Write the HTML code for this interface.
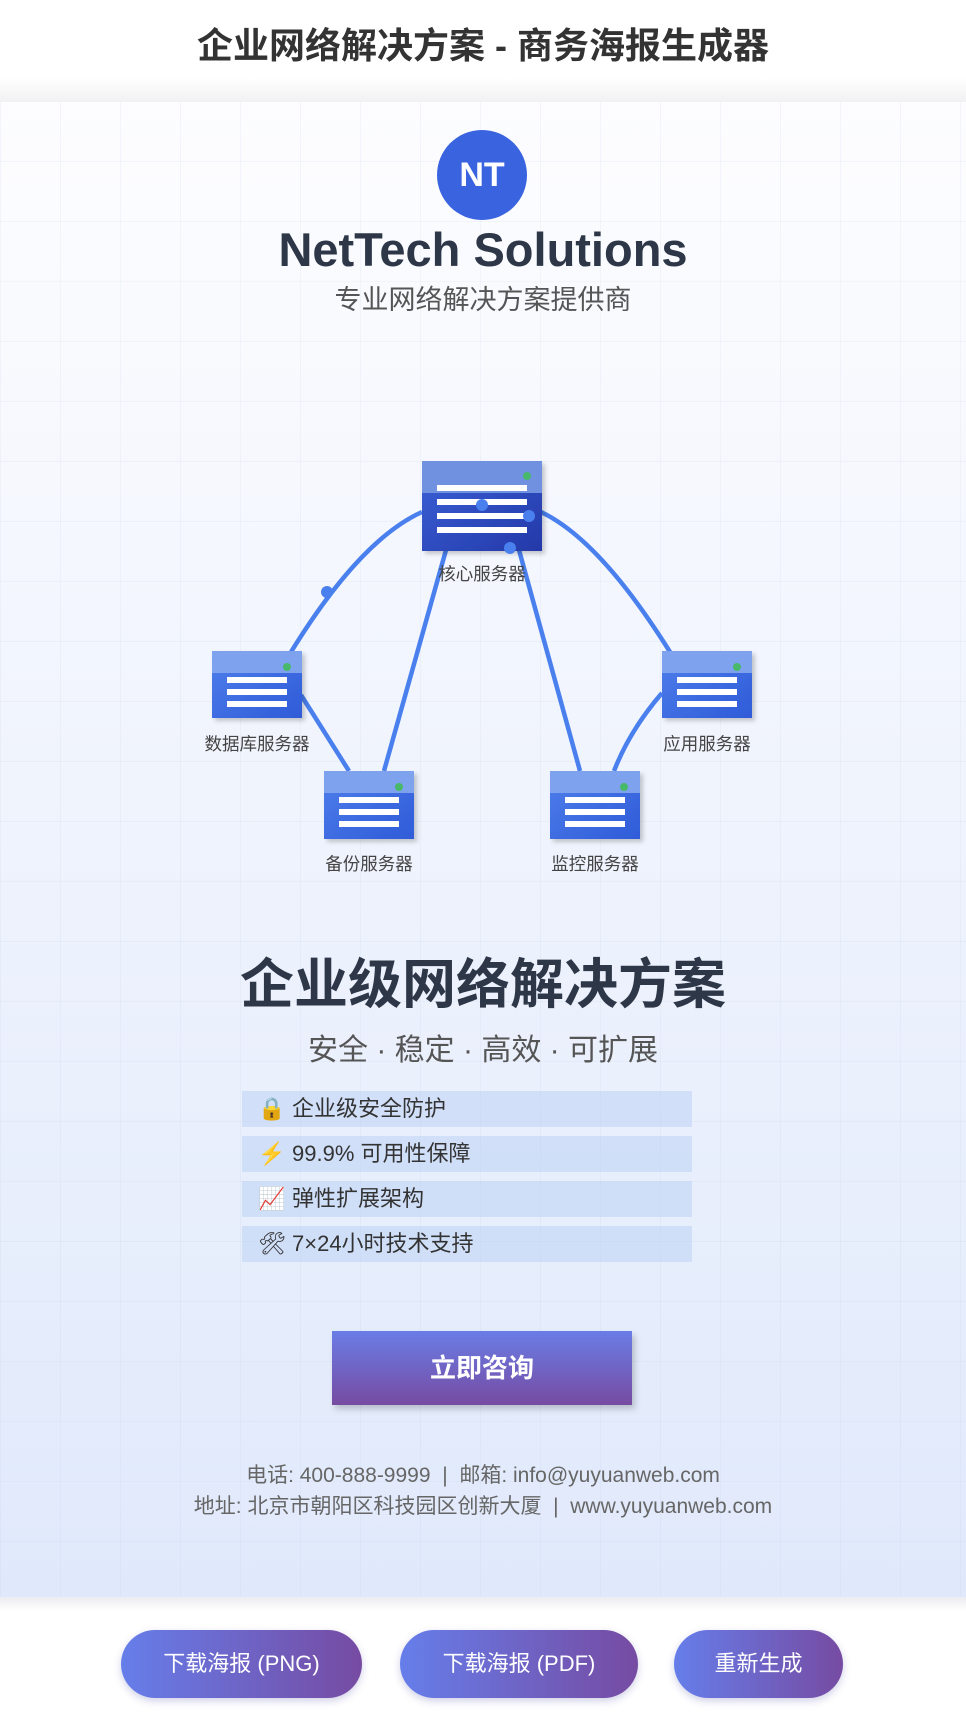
<!DOCTYPE html>
<html><head><meta charset="utf-8">
<style>
*{margin:0;padding:0;box-sizing:border-box}
body{width:966px;height:1726px;position:relative;background:#fff;font-family:"Liberation Sans","Noto Sans CJK SC",sans-serif;overflow:hidden}
.abs{position:absolute}
.c{left:0;width:966px;text-align:center}
#hdr{top:0;left:0;width:966px;height:80px;background:#fff}
#hdr h1{font-size:36px;font-weight:bold;color:#333;text-align:center;line-height:92px}
#shade{top:78px;left:0;width:966px;height:24px;background:linear-gradient(#fff,#f1f1f3)}
#poster{top:101px;left:0;width:966px;height:1496px;background:linear-gradient(#fdfdff,#e0e9fb);}
#grid{top:101px;left:0;width:966px;height:1496px;background-image:linear-gradient(90deg,rgba(180,195,225,.13) 1px,transparent 1px),linear-gradient(rgba(180,195,225,.13) 1px,transparent 1px);background-size:60px 60px;background-position:0 0}
.row{left:242px;width:450px;height:36px;background:rgba(180,205,245,.45);font-size:22px;color:#333;line-height:36px;padding-left:16px}
.row span{display:inline-block;width:34px}
.btn{top:1630px;height:68px;border-radius:34px;background:linear-gradient(90deg,#667eea,#764ba2);color:#fff;font-size:22px;line-height:68px;text-align:center;box-shadow:0 3px 8px rgba(100,100,180,.3)}
</style></head><body>
<div id="hdr" class="abs"><h1>企业网络解决方案 - 商务海报生成器</h1></div>
<div id="poster" class="abs"></div>
<div id="grid" class="abs"></div>
<div id="shade" class="abs"></div>
<div class="abs" style="left:437px;top:130px;width:90px;height:90px;border-radius:50%;background:#3a63e0;color:#fff;font-weight:bold;font-size:34px;line-height:90px;text-align:center">NT</div>
<div class="abs c" style="top:222px;font-size:47px;font-weight:bold;color:#2d3748">NetTech Solutions</div>
<div class="abs c" style="top:278px;font-size:27px;color:#555">专业网络解决方案提供商</div>

<svg class="abs" style="left:0;top:0" width="966" height="900">
<defs>
<linearGradient id="bd" x1="0" y1="0" x2="1" y2="1"><stop offset="0" stop-color="#4f7fec"/><stop offset="1" stop-color="#2f5bd8"/></linearGradient>
<linearGradient id="cd" x1="0" y1="0" x2="1" y2="1"><stop offset="0" stop-color="#3a62d8"/><stop offset="1" stop-color="#2438a8"/></linearGradient>
<filter id="sh"><feDropShadow dx="3" dy="3" stdDeviation="2" flood-color="#000" flood-opacity=".2"/></filter>
</defs>
<g stroke="#4a80ee" stroke-width="4.5" fill="none">
<path d="M422 512 Q360 540 291 652"/>
<path d="M446 550 L384 771"/>
<path d="M301 695 L349 771"/>
<path d="M519 550 L580 771"/>
<path d="M541 512 Q600 540 670 652"/>
<path d="M662 693 Q630 730 614 771"/>
</g>
<g filter="url(#sh)">
<rect x="422" y="461" width="120" height="90" fill="url(#cd)"/>
<rect x="422" y="461" width="120" height="32" fill="#7090e0"/>
<rect x="212" y="651" width="90" height="67" fill="url(#bd)"/>
<rect x="212" y="651" width="90" height="22" fill="#7fa2ee"/>
<rect x="662" y="651" width="90" height="67" fill="url(#bd)"/>
<rect x="662" y="651" width="90" height="22" fill="#7fa2ee"/>
<rect x="324" y="771" width="90" height="68" fill="url(#bd)"/>
<rect x="324" y="771" width="90" height="22" fill="#7fa2ee"/>
<rect x="550" y="771" width="90" height="68" fill="url(#bd)"/>
<rect x="550" y="771" width="90" height="22" fill="#7fa2ee"/>
</g>
<g fill="#fff">
<rect x="437" y="485" width="90" height="6"/><rect x="437" y="499" width="90" height="6"/><rect x="437" y="513" width="90" height="6"/><rect x="437" y="527" width="90" height="6"/>
<rect x="227" y="677" width="60" height="6"/><rect x="227" y="689" width="60" height="6"/><rect x="227" y="701" width="60" height="6"/>
<rect x="677" y="677" width="60" height="6"/><rect x="677" y="689" width="60" height="6"/><rect x="677" y="701" width="60" height="6"/>
<rect x="339" y="797" width="60" height="6"/><rect x="339" y="809" width="60" height="6"/><rect x="339" y="821" width="60" height="6"/>
<rect x="565" y="797" width="60" height="6"/><rect x="565" y="809" width="60" height="6"/><rect x="565" y="821" width="60" height="6"/>
</g>
<g fill="#48b86a">
<circle cx="527" cy="476" r="4"/><circle cx="287" cy="667" r="4"/><circle cx="737" cy="667" r="4"/><circle cx="399" cy="787" r="4"/><circle cx="624" cy="787" r="4"/>
</g>
<g fill="#4a80ee">
<circle cx="327" cy="592" r="6"/><circle cx="482" cy="505" r="6"/><circle cx="529" cy="516" r="6"/><circle cx="510" cy="548" r="6"/>
</g>
<g font-size="17.5" fill="#444" text-anchor="middle" font-family="Liberation Sans,Noto Sans CJK SC,sans-serif">
<text x="482" y="580">核心服务器</text>
<text x="257" y="750">数据库服务器</text>
<text x="707" y="750">应用服务器</text>
<text x="369" y="870">备份服务器</text>
<text x="595" y="870">监控服务器</text>
</g>
</svg>

<div class="abs c" style="top:940px;font-size:54px;font-weight:bold;color:#2d3748">企业级网络解决方案</div>
<div class="abs c" style="top:1025px;font-size:30px;color:#555">安全 · 稳定 · 高效 · 可扩展</div>
<div class="abs row" style="top:1091px"><span>🔒</span>企业级安全防护</div>
<div class="abs row" style="top:1136px"><span>⚡</span>99.9% 可用性保障</div>
<div class="abs row" style="top:1181px"><span>📈</span>弹性扩展架构</div>
<div class="abs row" style="top:1226px"><span>🛠</span>7×24小时技术支持</div>
<div class="abs" style="left:332px;top:1331px;width:300px;height:74px;background:linear-gradient(#6a7de6,#764ba2);color:#fff;font-weight:bold;font-size:26px;line-height:74px;text-align:center;box-shadow:3px 4px 6px rgba(0,0,0,.2)">立即咨询</div>
<div class="abs c" style="top:1459px;font-size:21px;color:#666">电话: 400-888-9999 &nbsp;|&nbsp; 邮箱: info@yuyuanweb.com</div>
<div class="abs c" style="top:1490px;font-size:21px;color:#666">地址: 北京市朝阳区科技园区创新大厦 &nbsp;|&nbsp; www.yuyuanweb.com</div>
<div class="abs" style="top:1597px;left:0;width:966px;height:14px;background:linear-gradient(#ececf0,#fff)"></div>
<div class="abs btn" style="left:121px;width:241px">下载海报 (PNG)</div>
<div class="abs btn" style="left:400px;width:238px">下载海报 (PDF)</div>
<div class="abs btn" style="left:674px;width:169px">重新生成</div>
</body></html>
